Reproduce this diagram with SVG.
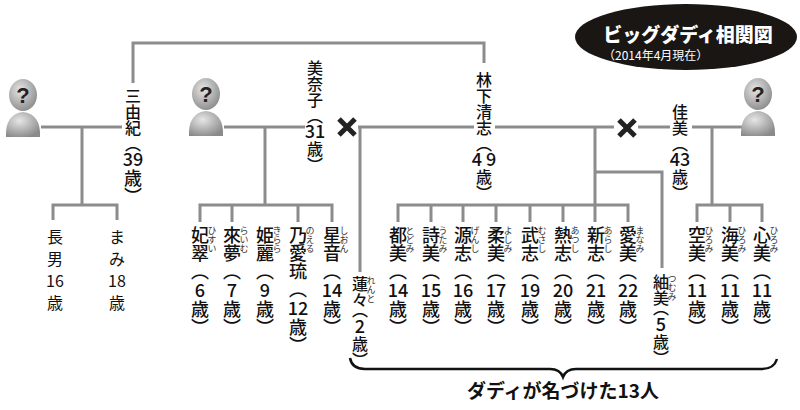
<svg xmlns="http://www.w3.org/2000/svg" width="800" height="410" viewBox="0 0 800 410">
<defs>
<style>
.l{stroke:#8c8c8c;stroke-width:3;fill:none}
.v{font-family:"Noto Sans CJK JP",sans-serif;font-size:18px;writing-mode:vertical-rl;fill:#111;font-weight:500}
.p{font-size:16px}
.n{font-family:"Noto Sans CJK JP",sans-serif;font-size:18px;text-anchor:middle;fill:#111;font-weight:500}
.r{font-family:"Noto Sans CJK JP",sans-serif;font-size:9px;writing-mode:vertical-rl;fill:#333}
.h{font-family:"Noto Sans CJK JP",sans-serif;font-size:16px;text-anchor:middle;fill:#111}
.x{stroke:#222;stroke-width:5;stroke-linecap:butt}
</style>
<radialGradient id="g" cx="0.4" cy="0.35" r="0.7"><stop offset="0" stop-color="#e6e6e6"/><stop offset="1" stop-color="#8a8a8a"/></radialGradient>
<g id="icon">
<path d="M-17,42 Q-18,19 0,17 Q18,19 17,42 Z" fill="url(#g)"/>
<ellipse cx="0" cy="0" rx="14" ry="16" fill="url(#g)"/>
<text x="0" y="8" font-family="Liberation Sans,sans-serif" font-weight="bold" font-size="22" text-anchor="middle" fill="#222">?</text>
</g>
</defs>
<rect width="800" height="410" fill="#fff"/>
<g id="connectors">
<path class="l" d="M133,83V43H484V63"/>
<path class="l" d="M41,127H125M82,127V205M53,220V205H117V220"/>
<path class="l" d="M224,127H305M358,127H475M495,127H614M638,127H670M692,127H742"/>
<path class="l" d="M265,127V205M200,222V205H332V222M232,205V222M298,205V222"/>
<path class="l" d="M360,127V272"/>
<path class="l" d="M595,127V205M398,222V205H628V222M431,205V222M463,205V222M496,205V222M530,205V222M563,205V222M595,205V222"/>
<path class="l" d="M595,172H662V268"/>
<path class="l" d="M712,127V205M697,222V205H762V222M730,205V222"/>
<path d="M350,358Q352,369 365,369H550Q560,369 563,377Q566,369 576,369H762Q774,369 777,359" fill="none" stroke="#111" stroke-width="2.5"/>
<g class="x"><path d="M339,119L355,135M355,119L339,135"/><path d="M619,120L635,136M635,120L619,136"/></g>
</g>
<g id="title">
<ellipse cx="686" cy="37" rx="111" ry="33" fill="#1a1614"/>
<text x="688" y="42" font-family="Noto Sans CJK JP,sans-serif" font-weight="900" font-size="19" text-anchor="middle" fill="#fff">ビッグダディ相関図</text>
<text x="603" y="60" font-family="Noto Sans CJK JP,sans-serif" font-size="12" fill="#fff">（2014年4月現在）</text>
</g>
<g id="unknown1"><use href="#icon" x="23" y="95"/></g>
<g id="unknown2"><use href="#icon" x="206" y="94"/></g>
<g id="unknown3"><use href="#icon" x="758" y="94"/></g>
<g id="mieki"><rect x="122" y="84" width="22" height="124" fill="#fff"/><text class="v p" x="133" y="88">三由紀（</text><text class="n" x="133" y="166" font-size="17">39</text><text class="v" x="133" y="169" font-size="14">歳）</text></g>
<g id="minako"><rect x="305" y="58" width="20" height="120" fill="#fff"/><text class="v p" x="315" y="60">美奈子（</text><text class="n" x="315" y="138" font-size="17">31</text><text class="v p" x="315" y="141">歳）</text></g>
<g id="hayashishita"><rect x="474" y="68" width="20" height="128" fill="#fff"/><text class="v p" x="484" y="72">林下清志（</text><text class="n" x="484" y="166" font-size="17">4 9</text><text class="v p" x="484" y="169">歳）</text></g>
<g id="yoshimi"><rect x="670" y="103" width="20" height="100" fill="#fff"/><text class="v p" x="680" y="104">佳美（</text><text class="n" x="680" y="166" font-size="17">43</text><text class="v p" x="680" y="169">歳）</text></g>
<g id="chonan"><text class="h" x="55" y="243">長</text><text class="h" x="55" y="265">男</text><text class="h" x="55" y="287">16</text><text class="h" x="55" y="309" font-size="14">歳</text></g>
<g id="mami"><text class="h" x="117" y="243">ま</text><text class="h" x="117" y="265">み</text><text class="h" x="117" y="287">18</text><text class="h" x="117" y="309" font-size="14">歳</text></g>
<g id="hisui"><text class="v" x="200" y="226">妃翠（</text><text class="r" x="212" y="226">ひすい</text><text class="n" x="200" y="297">6</text><text class="v" x="200" y="300">歳）</text></g>
<g id="raimu"><text class="v" x="232" y="226">來夢（</text><text class="r" x="244" y="226">らいむ</text><text class="n" x="232" y="297">7</text><text class="v" x="232" y="300">歳）</text></g>
<g id="kirara"><text class="v" x="265" y="226">姫麗（</text><text class="r" x="277" y="226">きらら</text><text class="n" x="265" y="297">9</text><text class="v" x="265" y="300">歳）</text></g>
<g id="noeru"><text class="v" x="298" y="226">乃愛琉（</text><text class="r" x="310" y="226">のえる</text><text class="n" x="298" y="315">12</text><text class="v" x="298" y="318">歳）</text></g>
<g id="shion"><text class="v" x="332" y="226">星音（</text><text class="r" x="344" y="226">しおん</text><text class="n" x="332" y="297">14</text><text class="v" x="332" y="300">歳）</text></g>
<g id="rento"><text class="v p" x="360" y="276">蓮々</text><text class="v p" x="360" y="302">（</text><text class="r" x="371" y="276">れんと</text><text class="n" x="360" y="333" font-size="17">2</text><text class="v p" x="360" y="336">歳）</text></g>
<g id="todomi"><text class="v" x="398" y="226">都美（</text><text class="r" x="410" y="226">とどみ</text><text class="n" x="398" y="297">14</text><text class="v" x="398" y="300">歳）</text></g>
<g id="utami"><text class="v" x="431" y="226">詩美（</text><text class="r" x="443" y="226">うたみ</text><text class="n" x="431" y="297">15</text><text class="v" x="431" y="300">歳）</text></g>
<g id="genshi"><text class="v" x="463" y="226">源志（</text><text class="r" x="475" y="226">げんし</text><text class="n" x="463" y="297">16</text><text class="v" x="463" y="300">歳）</text></g>
<g id="yoshimi2"><text class="v" x="496" y="226">柔美（</text><text class="r" x="508" y="226">よしみ</text><text class="n" x="496" y="297">17</text><text class="v" x="496" y="300">歳）</text></g>
<g id="musashi"><text class="v" x="530" y="226">武志（</text><text class="r" x="542" y="226">むさし</text><text class="n" x="530" y="297">19</text><text class="v" x="530" y="300">歳）</text></g>
<g id="atsushi"><text class="v" x="563" y="226">熱志（</text><text class="r" x="575" y="226">あつし</text><text class="n" x="563" y="297" font-weight="bold">20</text><text class="v" x="563" y="300">歳）</text></g>
<g id="arashi"><text class="v" x="596" y="226">新志（</text><text class="r" x="608" y="226">あらし</text><text class="n" x="596" y="297">21</text><text class="v" x="596" y="300">歳）</text></g>
<g id="manami"><text class="v" x="628" y="226">愛美（</text><text class="r" x="640" y="226">まなみ</text><text class="n" x="628" y="297">22</text><text class="v" x="628" y="300">歳）</text></g>
<g id="tsumugi"><text class="v p" x="661" y="274">紬美</text><text class="v p" x="661" y="300">（</text><text class="r" x="672" y="274">つむみ</text><text class="n" x="661" y="331" font-size="17">5</text><text class="v p" x="661" y="334">歳）</text></g>
<g id="hiromi1"><text class="v" x="697" y="226">空美（</text><text class="r" x="709" y="226">ひろみ</text><text class="n" x="697" y="297">11</text><text class="v" x="697" y="300">歳）</text></g>
<g id="hiromi2"><text class="v" x="730" y="226">海美（</text><text class="r" x="742" y="226">ひろみ</text><text class="n" x="730" y="297">11</text><text class="v" x="730" y="300">歳）</text></g>
<g id="hiromi3"><text class="v" x="762" y="226">心美（</text><text class="r" x="774" y="226">ひろみ</text><text class="n" x="762" y="297">11</text><text class="v" x="762" y="300">歳）</text></g>
<text x="563" y="398" font-family="Noto Sans CJK JP,sans-serif" font-weight="bold" font-size="19" text-anchor="middle" fill="#111">ダディが名づけた13人</text>
</svg>
